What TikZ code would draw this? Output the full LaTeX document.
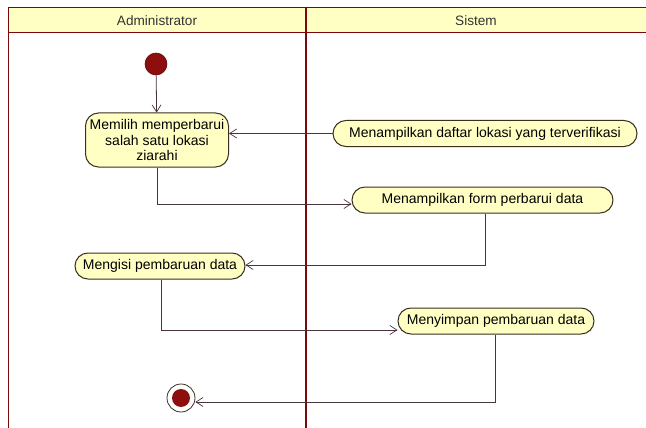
\documentclass[tikz,border=0pt]{standalone}
\usepackage{fontspec}
\setmainfont{Liberation Sans}
\usetikzlibrary{arrows.meta}
\definecolor{lanered}{HTML}{7A0A0A}
\definecolor{actfill}{HTML}{FFFFC4}
\definecolor{actline}{HTML}{3A3020}
\definecolor{flowline}{HTML}{4A3440}
\definecolor{dotred}{HTML}{8E0E0E}
\tikzset{
  act/.style={draw=actline, line width=1pt, fill=actfill, rounded corners=13pt,
    inner xsep=3pt, inner ysep=3pt, font=\fontsize{14}{15.5}\selectfont, align=center},
  flow/.style={draw=flowline, line width=0.8pt,
    -{Straight Barb[length=7pt,width=9pt,line width=0.7pt]}},
  lane/.style={draw=lanered, line width=1pt},
  divider/.style={draw=lanered, line width=2.6pt},
  lanehead/.style={font=\fontsize{13.6}{15}\selectfont, text=black!80}
}
\begin{document}
\begin{tikzpicture}[x=1pt,y=-1pt]
  \useasboundingbox (0,0) rectangle (646,428);
  \fill[white] (0,0) rectangle (646,428);
  % swimlane header band
  \fill[actfill] (8,8) rectangle (646,33);
  \draw[lane] (646,8) -- (8,8) -- (8,428);
  \draw[lane] (8,33) -- (646,33);
  \draw[divider] (306,8) -- (306,428);
  \node[lanehead] (hadm) at (157,20.5) {Administrator};
  \node[lanehead] (hsis) at (476,20.5) {Sistem};

  % initial and final states
  \node[circle, fill=dotred, draw=dotred!70!black, line width=0.6pt,
        minimum size=22pt, inner sep=0pt] (start) at (156,64) {};
  \node[circle, draw=actline, fill=white, line width=0.8pt,
        minimum size=28pt, inner sep=0pt] (stop) at (181,398) {};
  \node[circle, fill=dotred, minimum size=18pt, inner sep=0pt] (stopdot) at (181,398) {};

  % activities
  \node[act, minimum width=143pt, minimum height=54pt] (pilih) at (157,140)
    {Memilih memperbarui\\salah satu lokasi\\ziarahi};
  \node[act, minimum width=304pt, minimum height=26pt] (daftar) at (485,133.5)
    {Menampilkan daftar lokasi yang terverifikasi};
  \node[act, minimum width=261pt, minimum height=26pt] (form) at (482.5,200)
    {Menampilkan form perbarui data};
  \node[act, minimum width=170pt, minimum height=26pt] (isi) at (160,266)
    {Mengisi pembaruan data};
  \node[act, minimum width=196pt, minimum height=26pt] (simpan) at (496,321)
    {Menyimpan pembaruan data};

  % control flow
  \coordinate (c1) at (157,204);
  \coordinate (c2) at (485,265);
  \coordinate (c3) at (161,330);
  \coordinate (c4) at (495,402);
  \draw[flow] (start) -- (pilih);
  \draw[flow] (daftar.west) -- (daftar.west -| pilih.east);
  \draw[flow] (pilih.south) -- (c1) -- (c1 -| form.west);
  \draw[flow] (form.south -| c2) -- (c2) -- (c2 -| isi.east);
  \draw[flow] (isi.south -| c3) -- (c3) -- (c3 -| simpan.west);
  \draw[flow] (simpan.south -| c4) -- (c4) -- (c4 -| stop.east);
\end{tikzpicture}
\end{document}
